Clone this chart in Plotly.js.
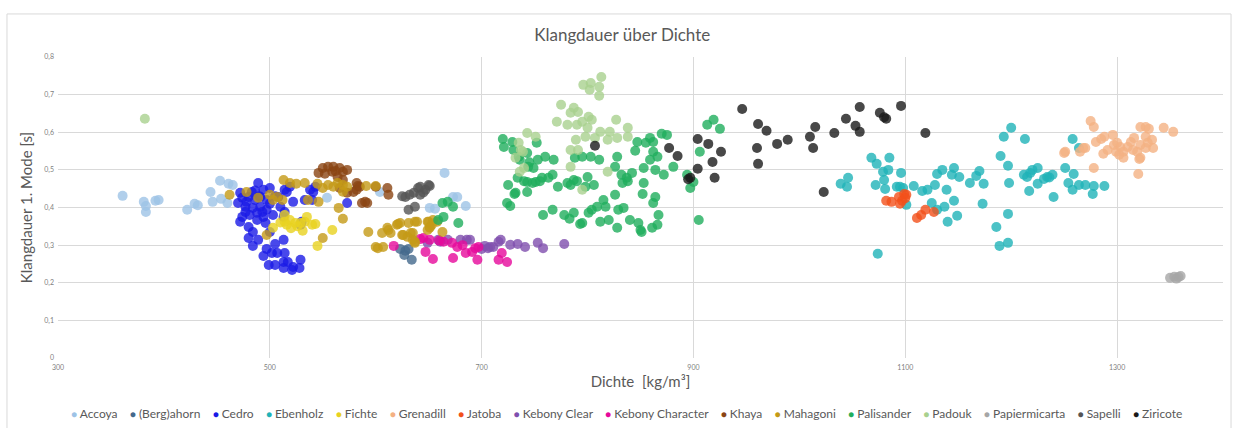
<!DOCTYPE html>
<html>
<head>
<meta charset="utf-8">
<script src="https://cdn.plot.ly/plotly-3.0.1.min.js"></script>
<style>html,body{margin:0;padding:0;background:#fff;}#chart{width:1237px;height:428px;}</style>
</head>
<body>
<div id="chart"></div>
<script>
// ---- Data (Dichte [kg/m³], Klangdauer [s]) ----
const seriesNames = ["Accoya","(Berg)ahorn","Cedro","Ebenholz","Fichte","Grenadill","Jatoba","Kebony Clear","Kebony Character","Khaya","Mahagoni","Palisander","Padouk","Papiermicarta","Sapelli","Ziricote"];
const seriesColors = ["#9dc3e6","#44698c","#1a1ae6","#1fb3b8","#e8d21f","#f4b183","#f2501a","#7f4fae","#e6099b","#8b4513","#c49a16","#1fae5c","#a9d18e","#a6a6a6","#555555","#1a1a1a"];

const accoyaX = [361,381,383,383,392,395,422,429,432,444,446,453,454,460,461,465,554,604,651,656,665,673,677,685];
const accoyaY = [0.431,0.415,0.404,0.388,0.418,0.420,0.394,0.410,0.406,0.441,0.415,0.471,0.423,0.412,0.463,0.460,0.426,0.441,0.399,0.397,0.492,0.428,0.428,0.404];

const ahornX = [623,628,631,627,634];
const ahornY = [0.290,0.285,0.290,0.274,0.261];

const cedroX = [489,472,483,494,500,470,477,484,491,497,474,481,488,496,472,480,484,480,489,484,497,494,502,505,507,499,505,514,513,517,513,521,529,528,522,503,513,514,510,508,516,519,522,533,540,543,541,573,529,530,491,486,480,474,497,494,500,488,493,477,513,490,478,500,486,505,514,538];
const cedroY = [0.465,0.439,0.441,0.447,0.452,0.412,0.402,0.399,0.402,0.394,0.375,0.380,0.367,0.359,0.362,0.348,0.335,0.319,0.314,0.298,0.290,0.271,0.279,0.303,0.279,0.247,0.247,0.279,0.255,0.255,0.239,0.234,0.261,0.239,0.242,0.380,0.375,0.388,0.402,0.428,0.441,0.455,0.415,0.420,0.420,0.455,0.441,0.412,0.354,0.362,0.428,0.420,0.428,0.426,0.420,0.375,0.335,0.386,0.388,0.388,0.314,0.430,0.415,0.410,0.445,0.430,0.447,0.447];

const ebenholzX = [1039,1045,1046,1068,1073,1072,1074,1079,1080,1081,1084,1085,1092,1096,1098,1101,1108,1116,1121,1128,1130,1135,1139,1125,1130,1137,1146,1140,1149,1144,1146,1151,1161,1167,1170,1174,1173,1186,1189,1197,1197,1190,1193,1200,1197,1198,1213,1212,1215,1218,1225,1217,1225,1231,1234,1239,1240,1251,1254,1259,1258,1264,1270,1277,1278,1288,1258,1264,1095,1220,1236];
const ebenholzY = [0.463,0.455,0.479,0.532,0.516,0.460,0.277,0.495,0.473,0.449,0.500,0.532,0.455,0.492,0.452,0.407,0.457,0.444,0.447,0.460,0.489,0.500,0.447,0.412,0.394,0.402,0.418,0.362,0.378,0.487,0.505,0.481,0.465,0.484,0.497,0.463,0.410,0.348,0.298,0.306,0.383,0.537,0.588,0.612,0.511,0.465,0.582,0.487,0.481,0.492,0.505,0.444,0.463,0.476,0.481,0.487,0.428,0.505,0.465,0.489,0.447,0.460,0.460,0.436,0.457,0.457,0.582,0.558,0.455,0.500,0.480];

const fichteX = [503,514,519,524,529,533,535,540,543,531,545,559,516,514,510,526,520];
const fichteY = [0.346,0.362,0.367,0.359,0.359,0.362,0.375,0.354,0.356,0.338,0.298,0.340,0.354,0.380,0.360,0.350,0.345];

const grenadillX = [1275,1278,1251,1265,1270,1280,1285,1288,1296,1287,1291,1297,1300,1303,1299,1302,1306,1310,1313,1316,1315,1319,1306,1322,1322,1327,1329,1333,1334,1327,1278,1320,1322,1327,1330,1344,1353,1250,1268,1321];
const grenadillY = [0.630,0.614,0.548,0.548,0.558,0.574,0.582,0.588,0.593,0.543,0.553,0.566,0.572,0.561,0.548,0.540,0.548,0.561,0.574,0.585,0.553,0.548,0.532,0.566,0.532,0.588,0.572,0.580,0.558,0.558,0.505,0.489,0.614,0.614,0.609,0.612,0.601,0.545,0.558,0.529];

const jatobaX = [1082,1087,1094,1095,1099,1101,1097,1111,1115,1119,1127,1100];
const jatobaY = [0.418,0.415,0.428,0.410,0.436,0.434,0.418,0.372,0.380,0.394,0.388,0.425];

const kebonyClearX = [649,659,661,668,680,686,689,706,708,711,716,718,727,734,741,753,758,778,700,703];
const kebonyClearY = [0.306,0.314,0.309,0.314,0.314,0.314,0.314,0.292,0.295,0.295,0.309,0.314,0.301,0.303,0.295,0.306,0.292,0.303,0.290,0.298];

const kebonyCharX = [617,642,645,651,647,654,664,672,673,677,685,691,694,697,696,716,724,719,660,682];
const kebonyCharY = [0.298,0.316,0.319,0.314,0.282,0.263,0.309,0.306,0.266,0.295,0.279,0.282,0.292,0.295,0.261,0.261,0.255,0.279,0.312,0.300];

const khayaX = [546,550,555,560,559,566,569,573,564,569,566,573,579,583,582,587,592,590,600,611,612,582,585,552,562];
const khayaY = [0.492,0.505,0.508,0.508,0.495,0.505,0.495,0.500,0.481,0.473,0.452,0.439,0.441,0.457,0.447,0.412,0.412,0.415,0.455,0.452,0.434,0.465,0.455,0.490,0.497];

const mahagoniX = [462,478,489,500,503,512,513,519,497,507,525,533,536,545,546,550,555,560,573,569,565,569,550,591,600,593,606,612,614,600,602,607,621,631,637,620,625,630,635,637,649,651,649,654,658,651,663,564,569,611,639,626,633,635,637,623,650,653];
const mahagoniY = [0.434,0.441,0.426,0.434,0.420,0.420,0.473,0.465,0.327,0.428,0.463,0.465,0.420,0.463,0.415,0.452,0.460,0.455,0.455,0.442,0.399,0.370,0.319,0.457,0.457,0.335,0.332,0.340,0.332,0.295,0.292,0.295,0.356,0.359,0.362,0.354,0.327,0.322,0.332,0.309,0.340,0.348,0.362,0.367,0.362,0.346,0.335,0.465,0.460,0.346,0.362,0.327,0.332,0.314,0.306,0.359,0.362,0.354];

const palisanderX = [720,721,729,730,735,736,743,744,749,752,753,760,768,734,725,731,724,727,743,743,748,751,757,763,767,758,767,772,781,787,784,788,795,803,800,806,798,811,787,795,801,804,809,815,817,812,820,828,829,834,828,826,832,837,842,833,840,848,850,847,845,853,853,852,855,859,862,862,866,859,864,872,864,862,867,866,861,870,875,881,894,897,905,906,913,919,925,900,663,668,673,659,664,678,732,745,740,755,790,793,826,851,778,783,838];
const palisanderY = [0.582,0.561,0.574,0.553,0.535,0.527,0.545,0.508,0.505,0.572,0.527,0.535,0.527,0.479,0.460,0.436,0.412,0.404,0.441,0.468,0.465,0.468,0.479,0.479,0.487,0.380,0.394,0.455,0.465,0.473,0.460,0.532,0.535,0.535,0.481,0.460,0.455,0.527,0.386,0.359,0.386,0.394,0.402,0.420,0.402,0.362,0.367,0.346,0.394,0.399,0.535,0.508,0.487,0.479,0.492,0.465,0.367,0.359,0.340,0.574,0.551,0.505,0.465,0.436,0.572,0.585,0.574,0.548,0.535,0.527,0.500,0.487,0.428,0.412,0.380,0.354,0.346,0.596,0.593,0.508,0.487,0.452,0.367,0.548,0.620,0.633,0.609,0.468,0.412,0.415,0.402,0.367,0.375,0.359,0.439,0.520,0.470,0.470,0.470,0.356,0.434,0.335,0.380,0.370,0.470];

const padoukX = [382,796,803,802,811,813,811,775,787,784,791,771,781,790,801,804,795,800,812,821,827,838,838,828,819,807,798,789,791,784,743,751,735,737,739,732,736,784,795,819,740];
const padoukY = [0.636,0.726,0.731,0.713,0.721,0.747,0.697,0.673,0.665,0.652,0.654,0.628,0.620,0.620,0.641,0.633,0.628,0.612,0.601,0.601,0.633,0.612,0.588,0.585,0.580,0.585,0.588,0.580,0.553,0.553,0.598,0.588,0.572,0.553,0.548,0.532,0.495,0.508,0.447,0.495,0.505];

const papierX = [1350,1354,1358,1356,1360];
const papierY = [0.213,0.216,0.215,0.211,0.218];

const sapelliX = [628,632,636,640,642,647,651,631,637,645,625,650,642];
const sapelliY = [0.428,0.434,0.439,0.452,0.434,0.447,0.457,0.394,0.402,0.440,0.430,0.460,0.455];

const ziricoteX = [807,877,885,897,904,904,914,918,920,926,946,961,969,960,961,979,989,1010,1013,1015,1023,1033,1044,1053,1057,1057,1076,1082,1096,1119,1080,895];
const ziricoteY = [0.564,0.558,0.537,0.479,0.582,0.503,0.569,0.521,0.479,0.548,0.662,0.622,0.604,0.558,0.516,0.569,0.580,0.588,0.558,0.614,0.441,0.598,0.636,0.617,0.601,0.667,0.652,0.636,0.670,0.598,0.640,0.475];

const tickValsX = [300,500,700,900,1100,1300];
const tickValsY = [0,0.1,0.2,0.3,0.4,0.5,0.6,0.7,0.8];

const seriesData = [
  [accoyaX, accoyaY],[ahornX, ahornY],[cedroX, cedroY],[ebenholzX, ebenholzY],
  [fichteX, fichteY],[grenadillX, grenadillY],[jatobaX, jatobaY],[kebonyClearX, kebonyClearY],
  [kebonyCharX, kebonyCharY],[khayaX, khayaY],[mahagoniX, mahagoniY],[palisanderX, palisanderY],
  [padoukX, padoukY],[papierX, papierY],[sapelliX, sapelliY],[ziricoteX, ziricoteY]
];

const FONT = "Lato, 'Open Sans', sans-serif";

const traces = seriesData.map((d, i) => ({
  type: 'scatter', mode: 'markers', name: seriesNames[i],
  x: d[0], y: d[1],
  marker: {color: seriesColors[i], size: 10, opacity: 0.8, line: {width: 0}},
  hoverinfo: 'name+x+y'
}));

const legendText = seriesNames.map((n, i) =>
  '<span style="color:' + seriesColors[i] + ';font-size:10px">\u25CF</span>\u00A0' + n
).join('\u00A0\u00A0\u00A0\u00A0');

const layout = {
  width: 1237, height: 428,
  margin: {l: 58, r: 14, t: 57, b: 70},
  paper_bgcolor: '#ffffff', plot_bgcolor: '#ffffff',
  separators: ',.',
  showlegend: false,
  font: {family: FONT, color: '#595959'},
  title: {text: 'Klangdauer über Dichte', font: {family: FONT, size: 17, color: '#595959'},
          xref: 'container', x: 0.503, xanchor: 'center', yref: 'container', y: 0.918, yanchor: 'middle'},
  xaxis: {
    range: [300, 1400], tickvals: tickValsX, showgrid: true, gridcolor: '#d9d9d9', gridwidth: 1,
    zeroline: false, showline: false, ticks: '', ticklabelstandoff: 4,
    tickfont: {family: FONT, size: 7, color: '#7f7f7f'},
    title: {text: 'Dichte  [kg/m³]', font: {family: FONT, size: 15, color: '#595959'}, standoff: 6}
  },
  yaxis: {
    range: [0, 0.8], tickvals: tickValsY, showgrid: true, gridcolor: '#d9d9d9', gridwidth: 1,
    zeroline: false, showline: false, ticks: '', ticklabelstandoff: 3,
    tickfont: {family: FONT, size: 7, color: '#7f7f7f'},
    title: {text: 'Klangdauer 1. Mode [s]', font: {family: FONT, size: 15, color: '#595959'}, standoff: 8}
  },
  annotations: [{
    text: legendText, xref: 'paper', yref: 'paper', x: 0.488, y: -0.183,
    xanchor: 'center', yanchor: 'middle', showarrow: false,
    font: {family: FONT, size: 12, color: '#595959'}
  }],
  shapes: [{
    type: 'rect', xref: 'paper', yref: 'paper', x0: -0.0438, x1: 1.0069, y0: -0.30, y1: 1.143,
    line: {color: '#d9d9d9', width: 1}, fillcolor: 'rgba(0,0,0,0)', layer: 'below'
  }]
};

Plotly.newPlot('chart', traces, layout, {displayModeBar: false, staticPlot: true});
</script>
</body>
</html>
